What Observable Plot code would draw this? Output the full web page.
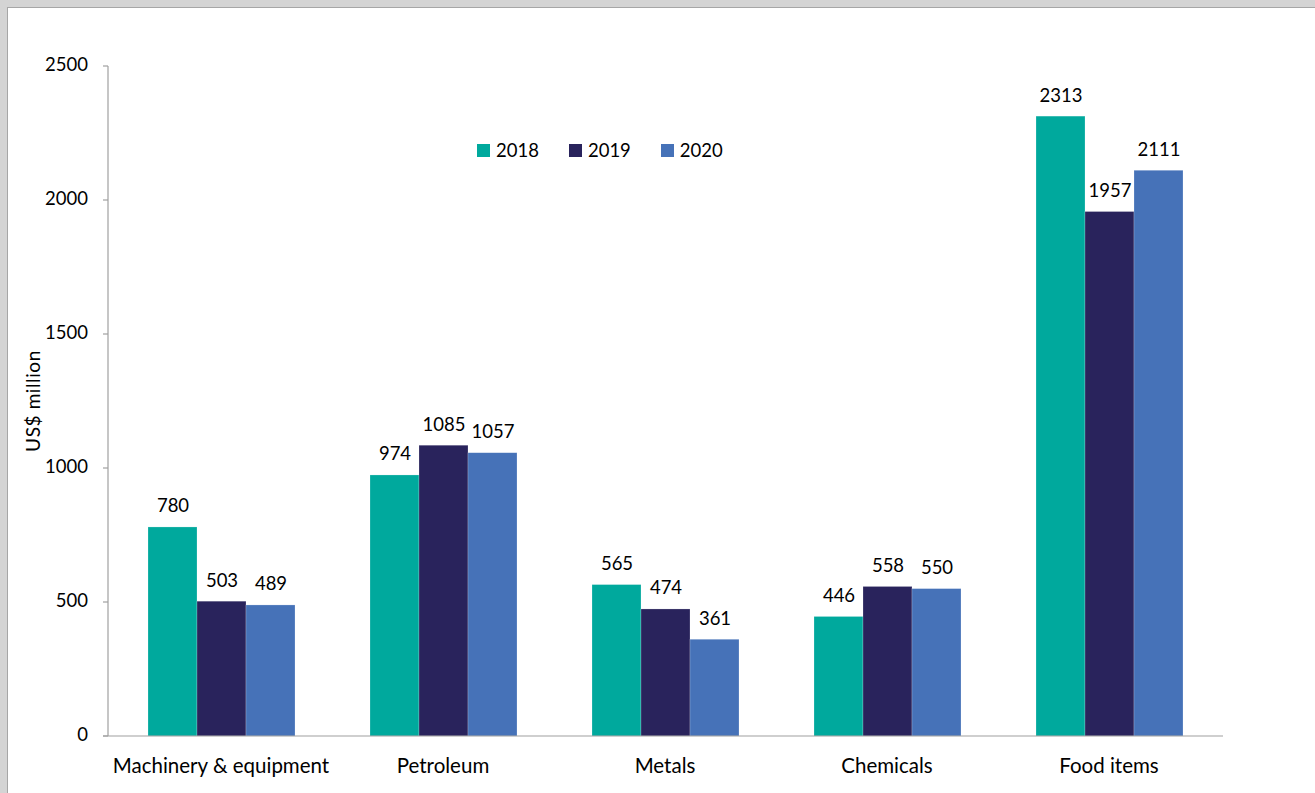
<!DOCTYPE html>
<html>
<head>
<meta charset="utf-8">
<script src="https://cdn.jsdelivr.net/npm/d3@7"></script>
<script src="https://cdn.jsdelivr.net/npm/@observablehq/plot@0.6"></script>
<style>
  html, body { margin: 0; padding: 0; background: #d4d4d4; }
  #frame { position: absolute; left: 7px; top: 7px; width: 1308px; height: 786px; background: #fff; border-left: 1px solid #a6a6a6; border-top: 1px solid #a6a6a6; overflow: hidden; font-family: Lato, "Open Sans", sans-serif; }
  #legend { position: absolute; left: 469px; top: 131px; display: flex; gap: 0; font-size: 18.5px; color: #000; }
  .item { display: flex; align-items: center; margin-right: 30px; }
  .sw { width: 13px; height: 13px; margin-right: 6px; }
</style>
</head>
<body>
<div id="frame"><div id="chart"></div><div id="legend"></div></div>
<script>
const categories = ["Machinery & equipment", "Petroleum", "Metals", "Chemicals", "Food items"];
const years = ["2018", "2019", "2020"];
const colors = ["#00a99d", "#29235c", "#4672b8"];
const values2018 = [780, 974, 565, 446, 2313];
const values2019 = [503, 1085, 474, 558, 1957];
const values2020 = [489, 1057, 361, 550, 2111];
const yTicks = [0, 500, 1000, 1500, 2000, 2500];

const series = [values2018, values2019, values2020];
const data = [];
categories.forEach((c, i) => years.forEach((y, j) => data.push({category: c, year: y, value: series[j][i]})));

const W = 1308, H = 786, ML = 100, MR = 93;
const plot = Plot.plot({
  width: W, height: H,
  marginLeft: ML, marginRight: MR, marginTop: 58, marginBottom: 58,
  style: {fontFamily: "Lato, 'Open Sans', sans-serif", fontSize: "18.5px", color: "#000", background: "transparent"},
  fx: {domain: categories, paddingInner: 0.333, paddingOuter: 0.167, label: null, axis: null},
  x: {domain: years, axis: null, padding: 0},
  y: {domain: [0, 2500], axis: null},
  color: {domain: years, range: colors},
  marks: [
    Plot.barY(data, {fx: "category", x: "year", y: "value", fill: "year", stroke: "#ffffff", strokeOpacity: 0.35, strokeWidth: 0.6}),
    Plot.text(data, {fx: "category", x: "year", y: "value", text: d => String(d.value), dy: -21, fill: "#000"})
  ]
});
document.getElementById("chart").appendChild(plot);

// axes, category labels and y label through the library's scales
const svg = d3.select(plot);
const ys = plot.scale("y");
const fxs = plot.scale("fx");
const y0 = ys.apply(0), yTop = ys.apply(2500);
const g = svg.append("g").attr("font-family", "Lato, 'Open Sans', sans-serif").attr("fill", "#000");
g.append("line").attr("x1", ML - 5).attr("x2", W - MR).attr("y1", y0).attr("y2", y0).attr("stroke", "#a0a0a0").attr("stroke-width", 1.2);
g.append("line").attr("x1", ML).attr("x2", ML).attr("y1", y0).attr("y2", yTop).attr("stroke", "#a0a0a0").attr("stroke-width", 1.2);
yTicks.forEach(t => {
  const y = ys.apply(t);
  g.append("line").attr("x1", ML - 5).attr("x2", ML).attr("y1", y).attr("y2", y).attr("stroke", "#a0a0a0").attr("stroke-width", 1.2);
  g.append("text").attr("x", ML - 20).attr("y", y).attr("text-anchor", "end").attr("dominant-baseline", "middle")
    .attr("font-size", "18.5px").text(String(t));
});
categories.forEach(c => {
  g.append("text").attr("x", fxs.apply(c) + fxs.bandwidth / 2).attr("y", y0 + 37)
    .attr("text-anchor", "middle").attr("font-size", "20.5px").text(c);
});
g.append("text").attr("transform", `translate(27,${(y0 + yTop) / 2}) rotate(-90)`)
  .attr("text-anchor", "middle").attr("dominant-baseline", "middle").attr("font-size", "19px").attr("letter-spacing", "0.6px").text("US$ million");

// legend
const lg = document.getElementById("legend");
years.forEach((y, i) => {
  const it = document.createElement("div"); it.className = "item";
  const sw = document.createElement("div"); sw.className = "sw"; sw.style.background = colors[i];
  const t = document.createElement("span"); t.textContent = y;
  it.appendChild(sw); it.appendChild(t); lg.appendChild(it);
});
</script>
</body>
</html>
